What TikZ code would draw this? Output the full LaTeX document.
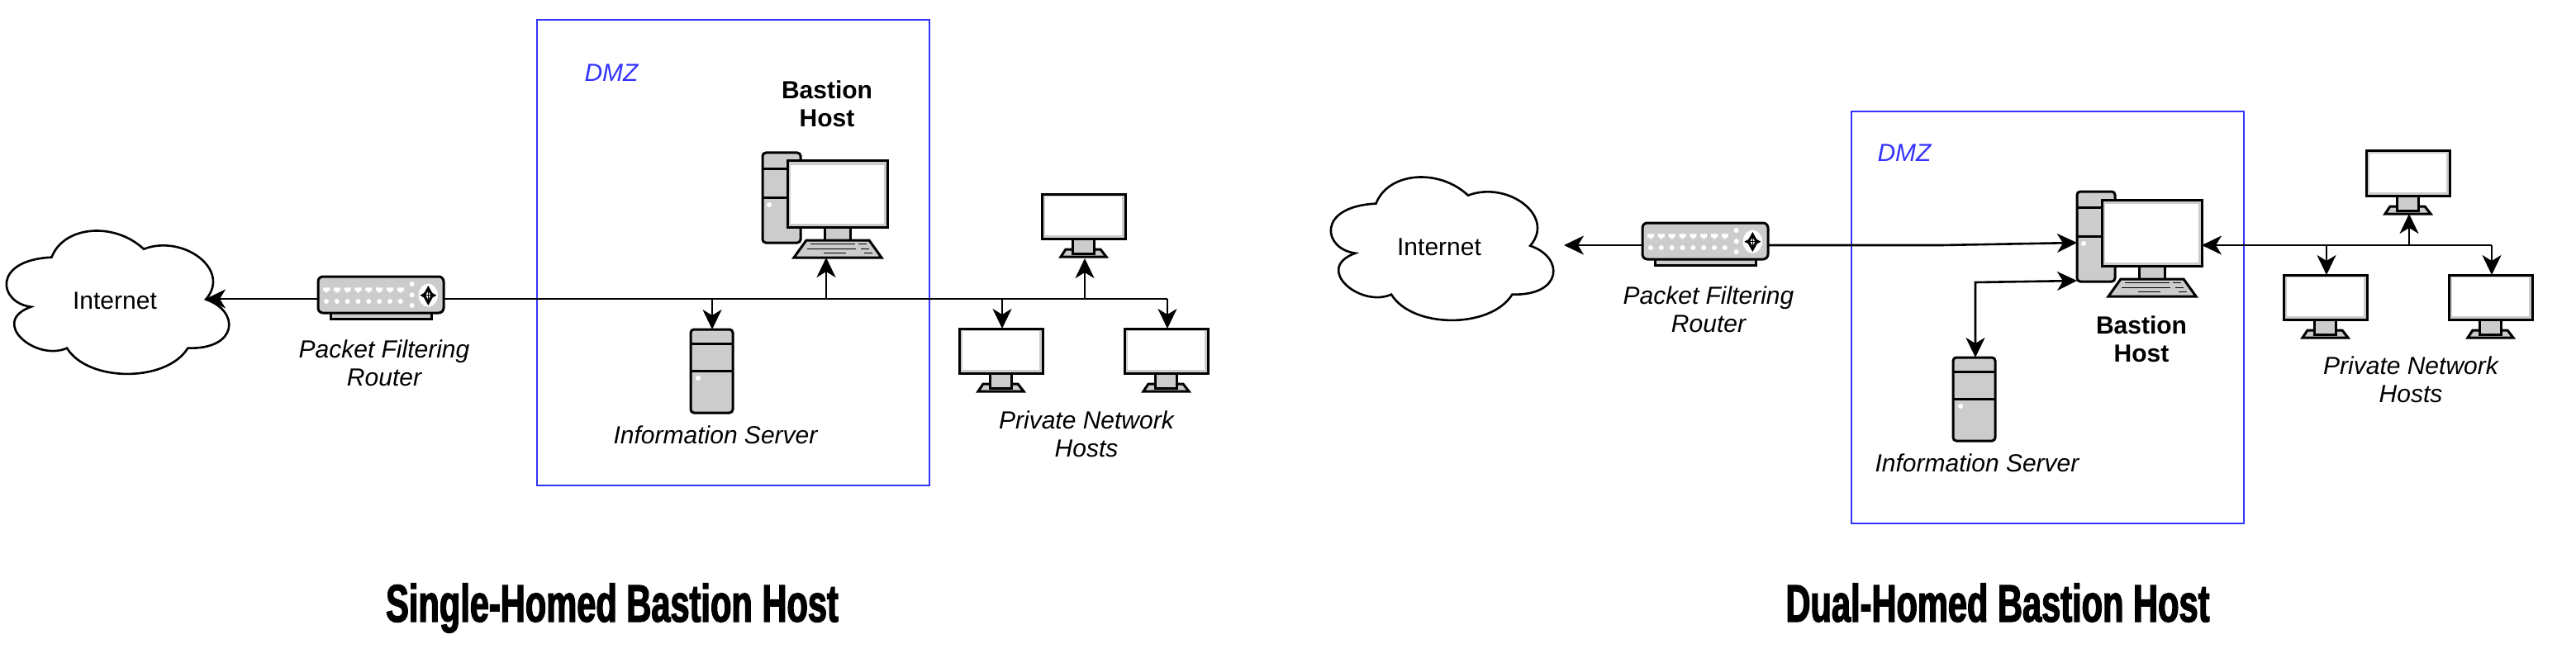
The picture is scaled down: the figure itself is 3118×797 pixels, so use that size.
\documentclass[tikz,border=0pt]{standalone}
\usepackage{fontspec}
\setmainfont{Liberation Sans}
\newfontfamily\titlefont[FakeStretch=0.65,FakeBold=2]{Liberation Sans Bold}
\usetikzlibrary{arrows.meta,calc}
\definecolor{dev}{HTML}{CCCCCC}
\definecolor{dmz}{HTML}{3333FF}
\tikzset{
  x=.5pt,y=-.5pt,
  conn/.style={line width=1.3pt,black,-{Stealth[length=12pt,width=11.5pt,inset=3.5pt]}},
  plainconn/.style={line width=1.3pt,black},
  both/.style={line width=1.3pt,black,{Stealth[length=12pt,width=11.5pt,inset=3.5pt]}-{Stealth[length=12pt,width=11.5pt,inset=3.5pt]}},
  devline/.style={draw=black,line width=1.5pt,fill=dev},
  screenbox/.style={devline,rectangle,inner sep=0pt,outer sep=0pt,anchor=north west},
  towerbox/.style={devline,rectangle,rounded corners=2pt,inner sep=0pt,outer sep=0pt,anchor=north west},
  dmzbox/.style={draw=dmz,line width=1.3pt,rectangle,inner sep=0pt,outer sep=0pt,anchor=north west},
  lbl/.style={align=center,inner sep=0pt,font=\fontsize{15}{17}\selectfont},
  ilbl/.style={lbl,font=\fontsize{15}{17}\selectfont\itshape},
  blbl/.style={lbl,font=\fontsize{15}{17}\selectfont\bfseries},
  dmzlbl/.style={ilbl,text=dmz},
  ttl/.style={inner sep=0pt,anchor=base,font=\fontsize{32}{36}\selectfont\titlefont},
}
% name, x, y : desktop monitor with small stand
\newcommand{\hostmon}[3]{%
  \begin{scope}[shift={(#2,#3)}]
    \draw[devline] (23,76) -- (78,76) -- (71,67) -- (29,67) -- cycle;
    \draw[devline] (37,54) rectangle (63,72);
    \node[screenbox,minimum width=50.5pt,minimum height=27pt] (#1) at (0,0) {};
    \fill[white] (4,3) rectangle (97,50);
  \end{scope}}
% name, x, y : server tower
\newcommand{\servertower}[3]{%
  \begin{scope}[shift={(#2,#3)}]
    \node[towerbox,minimum width=25.5pt,minimum height=50.5pt] (#1) at (0,0) {};
    \draw[line width=1.5pt] (0,17) -- (51,17) (0,50) -- (51,50);
    \fill[white] (9,59) circle[radius=3];
  \end{scope}}
% name, x, y : bastion computer, origin = tower top left
\newcommand{\bastion}[3]{%
  \begin{scope}[shift={(#2,#3)}]
    \node[towerbox,minimum width=23pt,minimum height=54.5pt] (#1t) at (0,0) {};
    \draw[line width=1.5pt] (0,19) -- (46,19) (0,54) -- (46,54);
    \fill[white] (8,63) circle[radius=3];
    \draw[devline] (75,90) rectangle (106,108);
    \draw[devline] (38,127) -- (144,127) -- (129,106) -- (53,106) -- cycle;
    \node[screenbox,minimum width=60.5pt,minimum height=40pt] (#1m) at (30,10) {};
    \fill[white] (34,15) rectangle (147,86);
    \draw[line width=.9pt] (58,110.5) -- (112,110.5) (116,110.5) -- (126,110.5)
      (54,116.5) -- (113,116.5) (119,116.5) -- (129,116.5)
      (74,121.5) -- (101,121.5) (123,121.5) -- (133,121.5);
    \coordinate (#1k) at (91,127);
  \end{scope}}
% name, x, y : router, origin such that zoom coordinates /3 apply
\newcommand{\router}[3]{%
  \begin{scope}[shift={(#2,#3)},scale=1/3]
    \draw[devline] (90,170) rectangle (457,200);
    \node[towerbox,rounded corners=3pt,minimum width=76pt,minimum height=22pt] (#1) at (45,45) {};
    \foreach \px in {75,113.5,152,190.5,229,267.5,306,344.5}{
      \fill[white] (\px-12,85) -- (\px+12,85) -- (\px+12,97) -- (\px+5,97) -- (\px+5,103) -- (\px-5,103) -- (\px-5,97) -- (\px-12,97) -- cycle;
      \fill[white] (\px,135) circle[radius=9];
    }
    \foreach \py in {72,112,150}{\fill[white] (386,\py) circle[radius=9];}
    \fill[white] (445,113) ellipse[x radius=35,y radius=42];
    \draw[line width=.8pt,{Stealth[length=5pt,width=5.5pt]}-{Stealth[length=5pt,width=5.5pt]}] (445,78) -- (445,150);
    \draw[line width=.8pt,{Stealth[length=5pt,width=5.5pt]}-{Stealth[length=5pt,width=5.5pt]}] (415,113) -- (475,113);
  \end{scope}}
% cloud path, origin shift in px
\newcommand{\cloudshape}[2]{%
  \begin{scope}[shift={(#1,#2)},xscale=0.3954,yscale=1/3]
    \draw[line width=1.3pt,fill=white] (95,335) .. controls (-5,320) and (-25,165) .. (158,155)
      .. controls (195,40) and (350,25) .. (440,125)
      .. controls (560,70) and (710,200) .. (630,308)
      .. controls (735,350) and (730,490) .. (575,485)
      .. controls (510,610) and (270,610) .. (205,485)
      .. controls (110,535) and (-35,390) .. (95,335) -- cycle;
  \end{scope}}
\begin{document}
\begin{tikzpicture}
\useasboundingbox (0,0) rectangle (3118,797);
\fill[white] (0,0) rectangle (3118,797);

% ---------- left diagram ----------
\node[dmzbox,minimum width=237.5pt,minimum height=282pt] (dmzA) at (650,24) {};
\node[dmzlbl] (dmzAt) at (740,88) {DMZ};
\cloudshape{0}{260}
\node[lbl] (inetA) at (139,364) {Internet};
\coordinate (inetAport) at (249,362);
\router{rA}{370}{320}
\node[ilbl] (rAt) at (465,440) {Packet Filtering\\Router};
\bastion{bA}{923}{185}
\node[blbl] (bAt) at (1001,126) {Bastion\\Host};
\servertower{sA}{836}{399}
\node[ilbl] (sAt) at (866,527) {Information Server};
\hostmon{hA1}{1161}{398}
\hostmon{hA2}{1261}{235}
\hostmon{hA3}{1361}{398}
\node[ilbl] (hAt) at (1315,526) {Private Network\\Hosts};

\coordinate (jA1) at (862,362);
\coordinate (jA2) at (1000,362);
\coordinate (jA3) at (1213,362);
\coordinate (jA4) at (1313,362);
\coordinate (jA5) at (1413,362);
\draw[conn] (rA.west |- inetAport) -- (inetAport);
\draw[plainconn] (rA.east |- jA5) -- (jA5);
\draw[conn] (jA1) -- (jA1 |- sA.north);
\draw[conn] (jA2) -- (jA2 |- bAk);
\draw[conn] (jA3) -- (jA3 |- hA1.north);
\draw[conn] (jA4) -- (jA4 |- 0,313);
\draw[conn] (jA5) -- (jA5 |- hA3.north);

% ---------- right diagram ----------
\node[dmzbox,minimum width=237.5pt,minimum height=249.5pt] (dmzB) at (2241,135) {};
\node[dmzlbl] (dmzBt) at (2305,185) {DMZ};
\cloudshape{1603}{195}
\node[lbl] (inetB) at (1742,299) {Internet};
\coordinate (inetBport) at (1893,297);
\router{rB}{1973}{255}
\node[ilbl] (rBt) at (2068,375) {Packet Filtering\\Router};
\bastion{bB}{2514}{232}
\node[blbl] (bBt) at (2592,411) {Bastion\\Host};
\servertower{sB}{2364}{433}
\node[ilbl] (sBt) at (2393,561) {Information Server};
\hostmon{hB1}{2764}{333}
\hostmon{hB2}{2864}{183}
\hostmon{hB3}{2964}{333}
\node[ilbl] (hBt) at (2918,460) {Private Network\\Hosts};

\coordinate (jB0) at (2350,297);
\coordinate (jB1) at (2816,297);
\coordinate (jB2) at (2916,297);
\coordinate (jB3) at (3016,297);
\coordinate (cB1) at (2391,342);
\coordinate (tB1) at (2514,294);
\coordinate (tB2) at (2514,340);
\draw[conn] (rB.west |- inetBport) -- (inetBport);
\draw[conn] (rB.east |- jB0) -- (jB0) -- (tB1);
\draw[both] (cB1 |- sB.north) -- (cB1) -- (tB2);
\draw[conn] (jB3) -- (bBm.east |- jB3);
\draw[conn] (jB1) -- (jB1 |- hB1.north);
\draw[conn] (jB2) -- (jB2 |- 0,259);
\draw[conn] (jB3) -- (jB3 |- hB3.north);

% ---------- titles ----------
\node[ttl] (tA) at (741,753) {Single-Homed Bastion Host};
\node[ttl] (tB) at (2418,753) {Dual-Homed Bastion Host};
\end{tikzpicture}
\end{document}
